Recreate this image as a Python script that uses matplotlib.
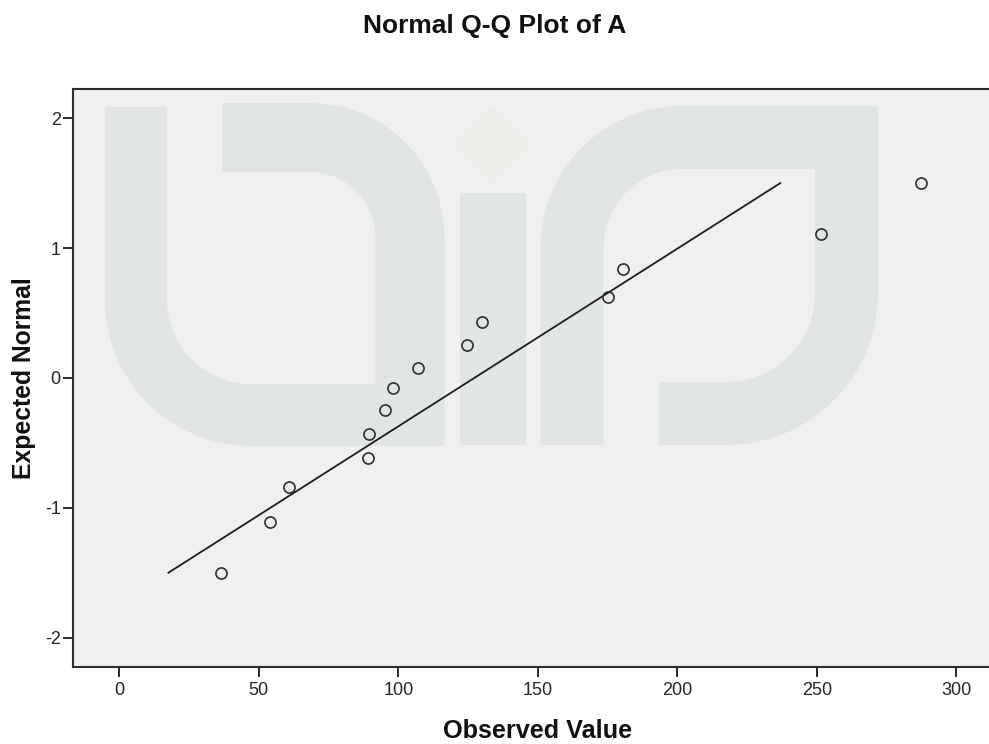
import matplotlib
matplotlib.use("Agg")
import matplotlib.pyplot as plt
from matplotlib.lines import Line2D
from matplotlib.patches import Polygon, Rectangle
import matplotlib.transforms as mtransforms
import numpy as np

# ---- data ----
observed = [36.5, 53.9, 60.7, 89.0, 89.6, 95.2, 98.0, 107.2, 124.7, 130.0,
            175.0, 180.5, 251.5, 287.3]
expected = [-1.50, -1.11, -0.84, -0.62, -0.43, -0.25, -0.08, 0.08, 0.25, 0.43,
            0.62, 0.84, 1.11, 1.50]
line_x = [17.6, 236.9]
line_y = [-1.50, 1.50]
x_ticks = [0, 50, 100, 150, 200, 250, 300]
y_ticks = [-2, -1, 0, 1, 2]

title = "Normal Q-Q Plot of A"
xlabel = "Observed Value"
ylabel = "Expected Normal"

FONT = ["Liberation Sans", "DejaVu Sans"]
plt.rcParams['font.family'] = FONT

W, H = 989, 744
fig = plt.figure(figsize=(W / 100, H / 100), dpi=100, facecolor="white")
ax = fig.add_axes([73.0 / W, 1 - 666.5 / H, 1 - 73.0 / W + 0.002, (666.5 - 89.3) / H])
ax.set_facecolor("#F0F0F0")

# ---- faint background watermark (pixel coordinates, decorative) ----
px = mtransforms.Affine2D().scale(1 / W, -1 / H).translate(0, 1) + fig.transFigure
wm = "#E1E5E3"
bw = 62 * 0.72

def arc(cx, cy, r, a0, a1, n=30):
    t = np.radians(np.linspace(a0, a1, n))
    return list(cx + r * np.cos(t)), list(cy + r * np.sin(t))

# left U
xs, ys = [136, 136], [107, 300]
ax_, ay_ = arc(251, 300, 115, 180, 90)
xs += ax_; ys += ay_
xs += [444]; ys += [415]
ax.add_artist(Line2D(xs, ys, transform=px, color=wm, lw=bw, solid_capstyle="butt",
                     solid_joinstyle="round", zorder=0.5))
# hook
xs, ys = [222, 310], [137.5, 137.5]
ax_, ay_ = arc(310, 237.5, 100, 270, 360)
xs += ax_; ys += ay_
xs += [410]; ys += [445]
ax.add_artist(Line2D(xs, ys, transform=px, color=wm, lw=69 * 0.72, solid_capstyle="butt",
                     solid_joinstyle="round", zorder=0.5))
# middle bar
ax.add_artist(Rectangle((460, 193), 66, 252, transform=px, color=wm, lw=0, zorder=0.5))
ax.add_artist(Polygon([(492, 105), (533, 145), (492, 185), (451, 145)], closed=True,
                      transform=px, color="#EEEDEA", lw=0, zorder=0.5))
# right shape
xs, ys = [572, 572], [445, 247.5]
ax_, ay_ = arc(682, 247.5, 110, 180, 270)
xs += ax_; ys += ay_
xs += [846.5, 846.5]; ys += [137.5, 293.5]
ax_, ay_ = arc(726.5, 293.5, 120, 0, 90)
xs += ax_; ys += ay_
xs += [659]; ys += [413.5]
ax.add_artist(Line2D(xs, ys, transform=px, color=wm, lw=63 * 0.72, solid_capstyle="butt",
                     solid_joinstyle="miter", zorder=0.5))

# ---- data marks ----
ax.plot(line_x, line_y, color="#1E1E1E", lw=1.3, zorder=3)
ax.plot(observed, expected, linestyle="none", marker="o", markersize=8,
        markerfacecolor="none", markeredgecolor="#2E2E2E", markeredgewidth=1.2, zorder=4)

ax.set_xlim(-16.6, 312.4)
ax.set_ylim(-2.222, 2.222)
ax.set_xticks(x_ticks)
ax.set_yticks(y_ticks)
ax.set_xticklabels([str(v) for v in x_ticks])
ax.set_yticklabels([str(v) for v in y_ticks])
ax.tick_params(axis="both", direction="out", length=7.3, width=1.4, color="#2A2A2A",
               labelsize=13, labelcolor="#262626")
ax.tick_params(axis="x", pad=4)
ax.tick_params(axis="y", pad=1.5)
for s in ["left", "bottom", "top"]:
    ax.spines[s].set_color("#2E2E2E")
    ax.spines[s].set_linewidth(1.5)
ax.spines["right"].set_visible(False)

fig.text(494.5 / W, 1 - 33 / H, title, ha="center", va="baseline",
         fontsize=19, fontweight="bold", color="#111111")
fig.text(537.5 / W, 1 - 738 / H, xlabel, ha="center", va="baseline",
         fontsize=18.2, fontweight="bold", color="#111111")
fig.text(24 / W, 1 - 378 / H, ylabel, ha="center", va="center", rotation=90,
         fontsize=17.8, fontweight="bold", color="#111111")

fig.savefig("out.png", dpi=100, facecolor="white")
